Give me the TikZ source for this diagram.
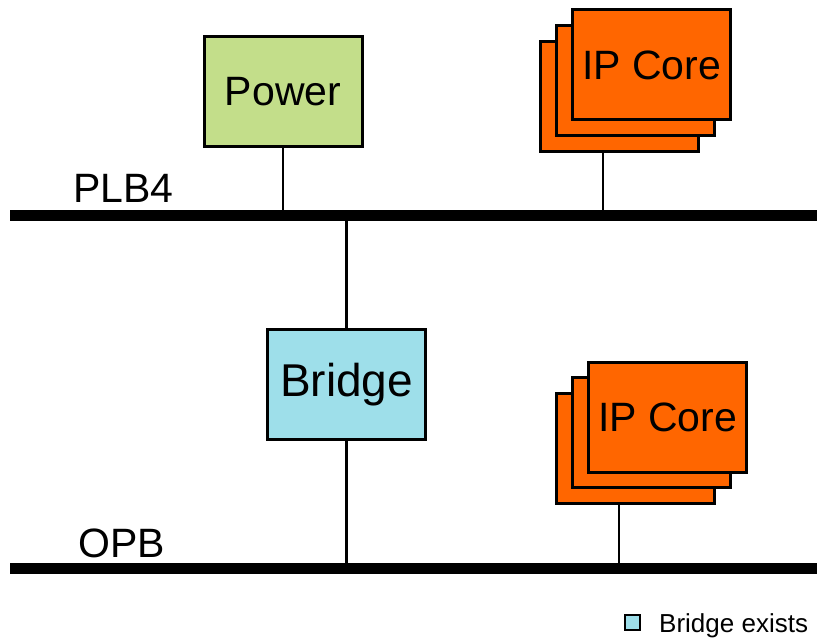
\documentclass[tikz,border=0pt]{standalone}
\usepackage{fontspec}
\setmainfont{Liberation Sans}
\usetikzlibrary{positioning}
\definecolor{powergreen}{RGB}{195,222,138}
\definecolor{bridgecyan}{RGB}{158,223,234}
\definecolor{coreorange}{RGB}{255,102,0}

\begin{document}
\begin{tikzpicture}[x=1pt,y=-1pt,
  block/.style={rectangle, draw=black, line width=3pt, minimum width=158pt, minimum height=110pt, inner sep=0pt, font=\fontsize{41}{45}\selectfont},
  core/.style={block, fill=coreorange},
  bus/.style={line width=10.5pt},
  link/.style={line width=2.5pt},
  buslabel/.style={anchor=base west, inner sep=0pt, font=\fontsize{41}{45}\selectfont}]
	\useasboundingbox (0,0) rectangle (817,639);

	% buses
	\coordinate (plbL) at (10,215.5);
	\coordinate (plbR) at (817,215.5);
	\coordinate (opbL) at (10,568.5);
	\coordinate (opbR) at (817,568.5);
	\draw[bus] (plbL) -- (plbR);
	\draw[bus] (opbL) -- (opbR);
	\node[buslabel] (plb) at (73,203) {PLB4};
	\node[buslabel] (opb) at (78,557) {OPB};

	% blocks
	\node[block, fill=powergreen] (power) at (283,91.5) {Power};
	\node[block, fill=bridgecyan, font=\fontsize{46}{50}\selectfont] (bridge) at (346.5,384.5) {Bridge};

	% stacked cores
	\node[core] (ipa3) at (619,97) {};
	\node[core] (ipa2) at (635,81) {};
	\node[core] (ipa) at (651.5,65) {IP Core};
	\node[core] (ipb3) at (635.5,448.5) {};
	\node[core] (ipb2) at (651.5,432.5) {};
	\node[core] (ipb) at (667.5,417) {IP Core};

	\coordinate (ipaTap) at (603,153);
	\coordinate (ipbTap) at (619,505);

	% connections
	\draw[link] (power.south) -- (power.south |- plbL);
	\draw[link] (ipaTap) -- (ipaTap |- plbL);
	\draw[link] (bridge.north) -- (bridge.north |- plbL);
	\draw[link] (bridge.south) -- (bridge.south |- opbL);
	\draw[link] (ipbTap) -- (ipbTap |- opbL);

	% legend
	\node[rectangle, draw=black, line width=2pt, fill=bridgecyan, minimum size=15pt, inner sep=0pt] (key) at (632,622) {};
	\node[anchor=base west, inner sep=0pt, font=\fontsize{26}{28}\selectfont] (keytext) at (659,632) {Bridge exists};
\end{tikzpicture}
\end{document}
